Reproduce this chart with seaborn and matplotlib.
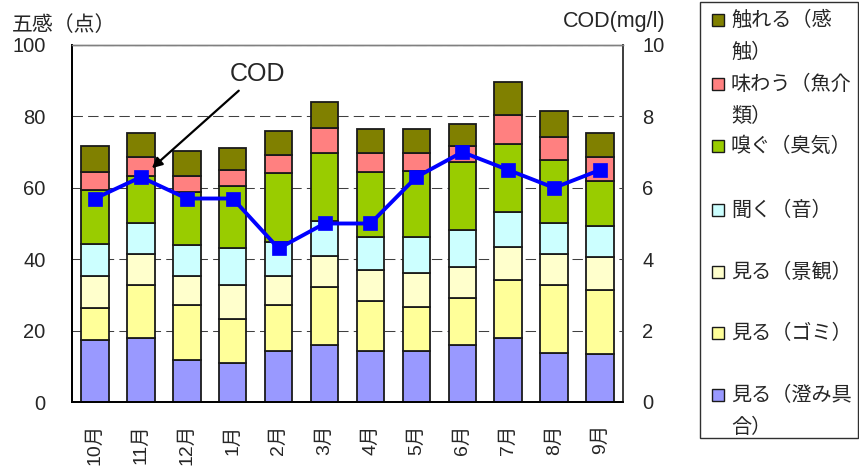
import numpy as np
import matplotlib
matplotlib.use("Agg")
import matplotlib.pyplot as plt
import seaborn as sns
from matplotlib.patches import Rectangle

# --- data ---
months = ['10月', '11月', '12月', '1月', '2月', '3月', '4月', '5月', '6月', '7月', '8月', '9月']
sumi = [17.4, 18.0, 11.8, 10.8, 14.4, 16.0, 14.4, 14.4, 16.0, 18.0, 13.8, 13.4]      # 見る(澄み具合)
gomi = [8.8, 14.8, 15.4, 12.4, 12.8, 16.3, 13.9, 12.3, 13.2, 16.2, 19.0, 18.0]       # 見る(ゴミ)
keikan = [9.2, 8.7, 8.1, 9.6, 8.2, 8.7, 8.7, 9.3, 8.7, 9.3, 8.7, 9.1]                # 見る(景観)
oto = [8.8, 8.7, 8.7, 10.4, 9.5, 9.7, 9.1, 10.1, 10.3, 9.6, 8.7, 8.8]                # 聞く(音)
shuki = [15.2, 13.2, 14.9, 17.3, 19.2, 19.0, 18.4, 18.6, 18.9, 19.1, 17.6, 12.7]     # 嗅ぐ(臭気)
gyokai = [5.1, 5.1, 4.5, 4.5, 5.1, 7.1, 5.2, 5.0, 4.6, 8.2, 6.5, 6.5]                # 味わう(魚介類)
kanshoku = [7.3, 6.9, 6.8, 6.2, 6.7, 7.3, 6.7, 6.7, 6.2, 9.3, 7.2, 6.9]              # 触れる(感触)
cod = [5.7, 6.3, 5.7, 5.7, 4.3, 5.0, 5.0, 6.3, 7.0, 6.5, 6.0, 6.5]

series_labels = ['見る（澄み具\n合）', '見る（ゴミ）', '見る（景観）', '聞く（音）',
                 '嗅ぐ（臭気）', '味わう（魚介\n類）', '触れる（感\n触）']
series_values = [sumi, gomi, keikan, oto, shuki, gyokai, kanshoku]
colors = ['#9999FF', '#FFFF99', '#FFFFCC', '#CCFFFF', '#99CC00', '#FF8080', '#808000']

sns.set_style("white")
plt.rcParams['font.family'] = ['Liberation Sans', 'Noto Sans CJK JP']

W, H = 859, 468
fig = plt.figure(figsize=(W / 100, H / 100), dpi=100)


def fx(x):
    return x / W


def fy(y):
    return 1 - y / H


L, R, T, B = 72, 623, 45, 402
ax = fig.add_axes([fx(L), fy(B), (R - L) / W, (B - T) / H])

x = np.arange(len(months))
bottom = np.zeros(len(months))
for vals, col in zip(series_values, colors):
    ax.bar(x, vals, width=0.6, bottom=bottom, color=col, edgecolor='#1a1a1a',
           linewidth=1.3, zorder=3)
    bottom += np.array(vals)

ax.set_xlim(-0.5, len(months) - 0.5)
ax.set_ylim(0, 100)
ax.set_yticks([0, 20, 40, 60, 80, 100])
ax.tick_params(axis='y', length=0, pad=19, labelsize=14.5)
ax.set_xticks(x)
ax.set_xticklabels(months, rotation=90, fontsize=14)
ax.tick_params(axis='x', which='major', length=0, pad=16)
ax.set_xticks(np.arange(0.5, len(months) - 1, 1), minor=True)
ax.tick_params(axis='x', which='minor', direction='in', length=5, color='#808080', width=1)
ax.set_axisbelow(True)
ax.yaxis.grid(True, color='#404040', linewidth=0.75, linestyle=(0, (10, 5)))
ax.xaxis.grid(False)

ax2 = ax.twinx()
sns.lineplot(x=x, y=cod, ax=ax2, color='#0000FF', linewidth=2.8, marker='s',
             markersize=10.5, markeredgecolor='#0000FF', markeredgewidth=0.5, zorder=5)
ax2.set_ylim(0, 10)
ax2.set_yticks([0, 2, 4, 6, 8, 10])
ax2.tick_params(axis='y', length=0, pad=14, labelsize=14.5)
ax2.set_ylabel('')

for a in (ax, ax2):
    a.spines['left'].set_color('black')
    a.spines['bottom'].set_color('black')
    a.spines['top'].set_color('#808080')
    a.spines['right'].set_color('#404040')
    a.spines['left'].set_linewidth(1.3)
    a.spines['bottom'].set_linewidth(1.3)
    a.spines['top'].set_linewidth(1.0)
    a.spines['right'].set_linewidth(1.3)

ax2.annotate('COD', xy=(1.24, 6.55), xytext=(3.55, 9.2), ha='center', va='center',
             fontsize=18,
             arrowprops=dict(arrowstyle='-|>', color='black', lw=1.6, mutation_scale=15,
                             shrinkA=2, shrinkB=0))

fig.text(fx(12), fy(25), '五感（点）', fontsize=15, ha='left', va='center')
fig.text(fx(666), fy(22), 'COD(mg/l)', fontsize=15.5, ha='right', va='center')

# legend box drawn by hand so the swatch sits on the first line of wrapped labels
fig.patches.append(Rectangle((fx(700), fy(438)), (858 - 700) / W, (438 - 2) / H,
                             transform=fig.transFigure, facecolor='white',
                             edgecolor='#303030', linewidth=1.0))
rows_y = [20, 84, 146, 210, 272, 333, 395]
for yy, lab, col in zip(rows_y, series_labels[::-1], colors[::-1]):
    fig.patches.append(Rectangle((fx(712), fy(yy + 6)), 12 / W, 12 / H,
                                 transform=fig.transFigure, facecolor=col,
                                 edgecolor='#1a1a1a', linewidth=1.0))
    for k, line in enumerate(lab.split('\n')):
        fig.text(fx(731), fy(yy + 32 * k), line, fontsize=14.5, ha='left', va='center')

fig.savefig('out.png', dpi=100)
